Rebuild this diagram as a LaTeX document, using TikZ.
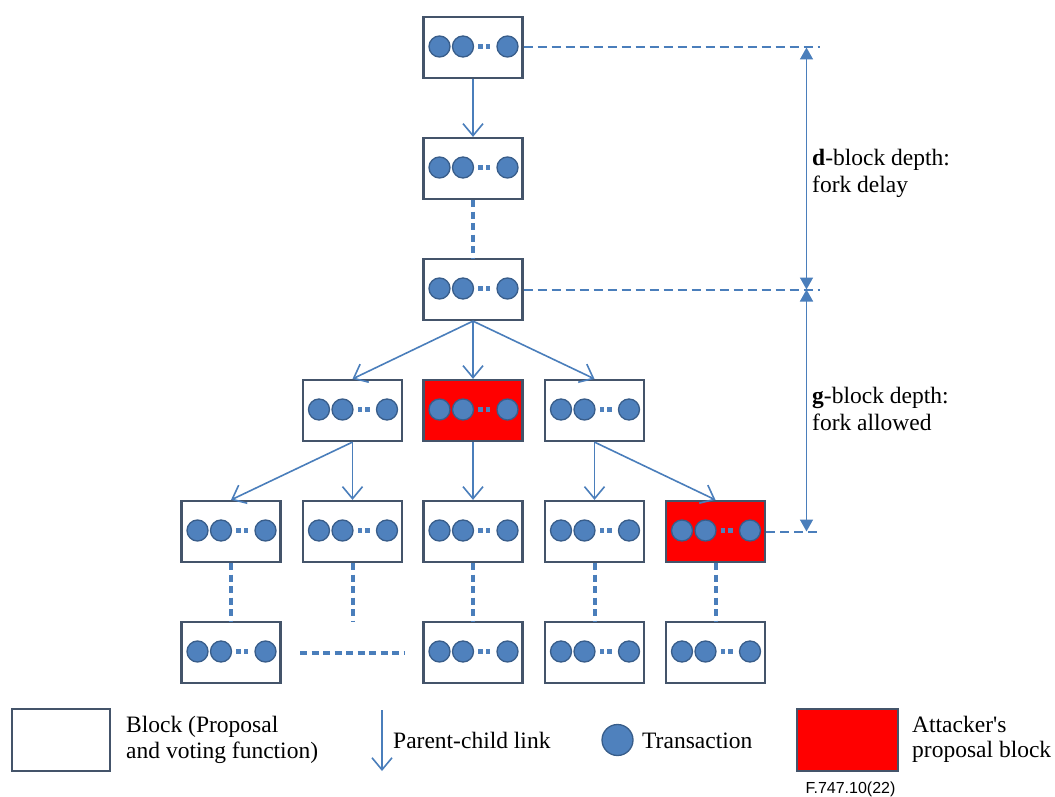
\documentclass[tikz,border=0pt]{standalone}
\usepackage{fontspec}
\setmainfont{Liberation Serif}
\newfontfamily\nolig{Liberation Serif}[Ligatures=TeXOff]
\newfontfamily\sansf{Liberation Sans}
\usetikzlibrary{arrows.meta}
\definecolor{boxc}{HTML}{44546A}
\definecolor{linec}{HTML}{4A7EBB}
\definecolor{circf}{HTML}{4F81BD}
\definecolor{circd}{HTML}{385D8A}
\definecolor{atk}{HTML}{FF0000}
\tikzset{
  blk/.style={draw=boxc, line width=2.2pt, fill=white, minimum width=99pt, minimum height=61pt, inner sep=0pt},
  atkblk/.style={blk, fill=atk},
  tx/.style={circle, draw=circd, fill=circf, line width=1.3pt, minimum size=21pt, inner sep=0pt},
  link/.style={draw=linec, line width=1.6pt, -{Straight Barb[length=12pt,width=20pt,line width=1.6pt]}},
  ellip/.style={draw=linec, line width=4pt, dash pattern=on 7pt off 4.5pt},
  dimdash/.style={draw=linec, line width=2pt, dash pattern=on 9pt off 5pt},
  dimarr/.style={draw=linec, line width=1.6pt, {Triangle[length=12pt,width=13pt]}-{Triangle[length=12pt,width=13pt]}},
  lbl/.style={font=\fontsize{23.5}{27}\selectfont, inner sep=0pt, anchor=base west},
}
\newcommand\txrow[1]{%
  \begin{scope}[shift={(#1.center)}]
    \node[tx] (#1-t1) at (-33.5,-1) {};
    \node[tx] (#1-t2) at (-10,-1) {};
    \node[tx] (#1-t3) at (34.5,-1) {};
    \fill[circf] (5.2,-3.3) rectangle (9.8,1.3);
    \fill[circf] (12.7,-3.3) rectangle (17.3,1.3);
  \end{scope}}
\begin{document}
\begin{tikzpicture}[x=1pt,y=-1pt]
\useasboundingbox (0,0) rectangle (1055,797);
% blocks
\node[blk] (r1) at (473,47.5) {};
\node[blk] (r2) at (473,168.5) {};
\node[blk] (r3) at (473,289.5) {};
\node[blk] (r4a) at (352.5,410.5) {};
\node[atkblk] (r4b) at (473,410.5) {};
\node[blk] (r4c) at (594.5,410.5) {};
\node[blk] (r5a) at (231,531.5) {};
\node[blk] (r5b) at (352.5,531.5) {};
\node[blk] (r5c) at (473,531.5) {};
\node[blk] (r5d) at (594.5,531.5) {};
\node[atkblk] (r5e) at (715.5,531.5) {};
\node[blk] (r6a) at (231,652.5) {};
\node[blk] (r6c) at (473,652.5) {};
\node[blk] (r6d) at (594.5,652.5) {};
\node[blk] (r6e) at (715.5,652.5) {};
\foreach \b in {r1,r2,r3,r4a,r4b,r4c,r5a,r5b,r5c,r5d,r5e,r6a,r6c,r6d,r6e}{\txrow{\b}}
% links
\draw[link] (r1.south) -- (r2.north);
\draw[link] (r3.south) -- (r4a.north);
\draw[link] (r3.south) -- (r4b.north);
\draw[link] (r3.south) -- (r4c.north);
\draw[link] (r4a.south) -- (r5a.north);
\draw[link] (r4a.south) -- (r5b.north);
\draw[link] (r4b.south) -- (r5c.north);
\draw[link] (r4c.south) -- (r5d.north);
\draw[link] (r4c.south) -- (r5e.north);
% ellipsis connectors
\coordinate (e5b) at (352.5,622);
\coordinate (h1) at (300,652.5);
\coordinate (h2) at (405,652.5);
\draw[ellip] (r2.south) -- (r3.north);
\draw[ellip] (r5a.south) -- (r6a.north);
\draw[ellip] (r5b.south) -- (e5b);
\draw[ellip] (r5c.south) -- (r6c.north);
\draw[ellip] (r5d.south) -- (r6d.north);
\draw[ellip] (r5e.south) -- (r6e.north);
\draw[ellip] (h1) -- (h2);
% dimensions
\coordinate (dA) at (820,47.5);
\coordinate (dB) at (820,289.5);
\coordinate (dC) at (820,531.5);
\coordinate (vA) at (806.5,47.5);
\coordinate (vB) at (806.5,289.5);
\coordinate (vC) at (806.5,531.5);
\draw[dimdash] (r1.east) -- (dA);
\draw[dimdash] (r3.east) -- (dB);
\draw[dimdash] (r5e.east) -- (dC);
\draw[dimarr] (vA) -- (vB);
\draw[dimarr] (vB) -- (vC);
\node[lbl] (dl1) at (812,166) {\textbf{d}-block depth:};
\node[lbl] (dl2) at (812,193) {fork delay};
\node[lbl] (gl1) at (812,403) {\textbf{g}-block depth:};
\node[lbl] (gl2) at (812,430) {fork allowed};
% legend
\node[blk, minimum width=98pt, minimum height=62pt] (legblk) at (61,740) {};
\node[lbl] (legt1) at (126,732) {Block (Proposal};
\node[lbl] (legt2) at (126,758) {and voting function)};
\coordinate (la1) at (382,710);
\coordinate (la2) at (382,771);
\draw[link] (la1) -- (la2);
\node[lbl] (legt3) at (393,748) {Parent-child link};
\node[tx, minimum size=31pt] (legtx) at (617.5,740) {};
\node[lbl] (legt4) at (642,748) {Transaction};
\node[atkblk, minimum width=101pt, minimum height=62pt] (legatk) at (847.5,740) {};
\node[lbl] (legt5) at (912,732) {Attacker{\nolig'}s};
\node[lbl] (legt6) at (912,757) {proposal block};
\node[font=\sansf\fontsize{16}{18}\selectfont, inner sep=0pt, anchor=base] (fig) at (850.5,793) {F.747.10(22)};
\end{tikzpicture}
\end{document}
